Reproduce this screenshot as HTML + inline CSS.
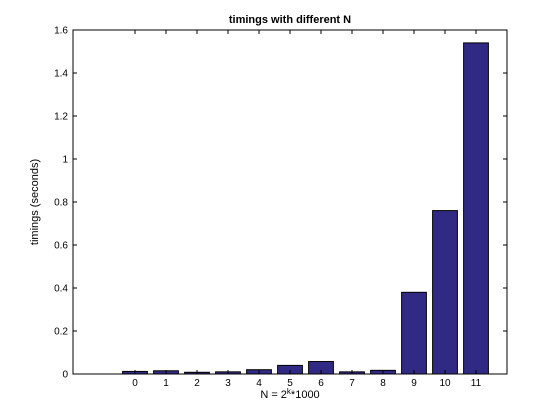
<!DOCTYPE html>
<html><head><meta charset="utf-8"><style>
body{margin:0;background:#fff;}
svg{display:block;font-family:"Liberation Sans",Arial,sans-serif;}
</style></head><body>
<svg id="chart" width="560" height="420">
<rect width="560" height="420" fill="#fff"/>
<rect x="73" y="30" width="434" height="344" fill="#fff"/>
<g id="bars"></g>
<g id="axes"></g>
<text x="290" y="23" font-size="11" font-weight="bold" text-anchor="middle">timings with different N</text>
<text x="290" y="398" font-size="11" text-anchor="middle">N = 2<tspan dy="-4" font-size="8">k</tspan><tspan dy="4">*1000</tspan></text>
<text transform="translate(38,202) rotate(-90)" font-size="11" text-anchor="middle">timings (seconds)</text>
</svg>
<script>
const categories=[0,1,2,3,4,5,6,7,8,9,10,11];
const timings=[0.012,0.015,0.008,0.01,0.02,0.04,0.058,0.01,0.017,0.38,0.76,1.54];
const yTicks=[0,0.2,0.4,0.6,0.8,1,1.2,1.4,1.6];
const yTickLabels=["0","0.2","0.4","0.6","0.8","1","1.2","1.4","1.6"];
const NS="http://www.w3.org/2000/svg";
const L=73,R=507,T=30,B=374;
const xs=v=>L+(v+2)/14*(R-L);
const ys=v=>B-v/1.6*(B-T);
function mk(tag,attrs,parent){const e=document.createElementNS(NS,tag);for(const k in attrs)e.setAttribute(k,attrs[k]);parent.appendChild(e);return e;}
const bars=document.getElementById('bars'),axes=document.getElementById('axes');
const bw=0.8*(xs(1)-xs(0));
categories.forEach((c,i)=>{
  const r=mk('rect',{x:xs(c)-bw/2,y:ys(timings[i]),width:bw,height:ys(0)-ys(timings[i]),fill:'#312a85',stroke:'#000','stroke-width':1},bars);
  
  
  const t=mk('text',{x:xs(c),y:B+12,'font-size':10,'text-anchor':'middle'},axes);
  t.textContent=String(c);
  
  
  mk('line',{x1:xs(c),x2:xs(c),y1:B,y2:B-4,stroke:'#000'},axes);
  mk('line',{x1:xs(c),x2:xs(c),y1:T,y2:T+4,stroke:'#000'},axes);
});
yTicks.forEach((v,i)=>{
  mk('line',{x1:L,x2:L+4,y1:ys(v),y2:ys(v),stroke:'#000'},axes);
  mk('line',{x1:R,x2:R-4,y1:ys(v),y2:ys(v),stroke:'#000'},axes);
  const t=mk('text',{x:L-5,y:ys(v)+3.5,'font-size':10,'text-anchor':'end'},axes);
  t.textContent=yTickLabels[i];
  
  
});
const box=mk('rect',{x:L,y:T,width:R-L,height:B-T,fill:'none',stroke:'#000','stroke-width':1},axes);


</script>
</body></html>
